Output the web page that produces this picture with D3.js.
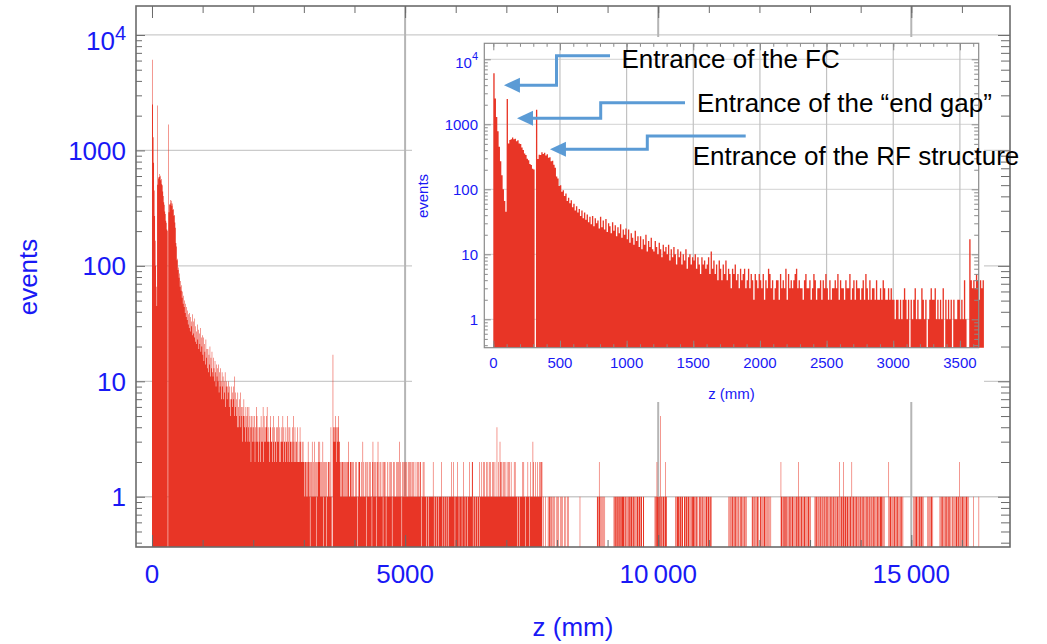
<!DOCTYPE html>
<html>
<head>
<meta charset="utf-8">
<script src="https://cdn.jsdelivr.net/npm/d3@7"></script>
<style>
  body { margin: 0; background: #fff; }
  svg { display: block; font-family: "Liberation Sans", Arial, Helvetica, sans-serif; }
</style>
</head>
<body>
<svg id="chart" width="1047" height="644"></svg>
<script>
// histogram of z positions, 10 mm bins
var binWidth = 10;

// 0 - 790 mm
var headCounts = [
  6100, 2500, 1300, 780, 450, 270, 165, 100, 66, 45,
  2450, 505, 572, 588, 625, 590, 602, 551, 566, 508,
  498, 441, 402, 355, 338, 296, 281, 246, 236, 207,
  201, 0, 1680, 292, 341, 338, 372, 349, 366, 331,
  346, 305, 311, 271, 276, 238, 214, 158, 147, 112,
  115, 92, 97, 79, 86, 66, 74, 61, 68, 53,
  60, 47, 55, 44, 50, 39, 47, 36, 44, 34,
  41, 31, 38, 29, 39, 27, 36, 30, 33, 25
];

// 800 - 1990 mm
var midCounts = [
  38, 26, 33, 24, 35, 22, 30, 27, 21, 31,
  23, 28, 19, 26, 21, 29, 18, 24, 20, 25,
  17, 24, 15, 21, 18, 14, 23, 16, 19, 13,
  19, 12, 17, 14, 20, 11, 16, 13, 18, 12,
  11, 16, 13, 10, 15, 12, 9, 14, 11, 13,
  10, 14, 8, 12, 9, 13, 10, 7, 12, 9,
  11, 7, 10, 8, 12, 6, 9, 10, 7, 9,
  8, 10, 6, 9, 7, 5, 9, 7, 8, 6,
  7, 9, 5, 11, 6, 8, 5, 7, 4, 8,
  6, 4, 7, 5, 8, 4, 6, 5, 3, 6,
  5, 7, 4, 5, 3, 6, 4, 5, 6, 3,
  4, 6, 3, 5, 4, 2, 5, 4, 3, 5
];

// from 2000 mm on: one row per metre, one digit per bin
var tailRows = [
  "4352436534 2344253436 2534345634 3324533423 5423342435 3242334352 4332433523 4243323425 3242332422 3243223232",
  "2122121232 1202123121 1321201232 2312121302 1212021122 1214100043 4354243453 3212122121 2121212231 1221212121",
  "1211201212 2112113121 1210212112 1211023121 2120123121 1211210212 2101121121 1212011221 1121212131 2110211212",
  "1212112121 2112121211 1211212112 2101121211 1101110111 1111121011 1011110111 1211011101 1101101111 1211121101",
  "1112110111 1101121101 1110111211 1122011101 1101110211 1211212111 2112112121 1121211211 1411211321 2112121211",
  "1211212112 1111121211 1101110111 1121211011 1121101211 1132111211 1211121212 2001000100 0010110101 1001010010",
  "0101001001 0100100100 1010000000 0000000000 0000010000 0000000000 0000000000 0000000001 1012101100 1010100000",
  "0000000000 0011011101 1101110111 1110110101 0111011110 1101101011 1011101100 1100000000 0000000000 0001101211",
  "1011501101 1101211000 0000000000 0000110111 1011101110 0111011011 1010110111 1101011010 0111010110 1010111011",
  "1011010000 0000000000 0000000000 0000000001 0110101101 1011010110 0110110101 1010100000 0000011010 1101011010",
  "0110101101 1010110100 1010000000 0000000000 0021101101 1101101011 0110111010 1011011201 1011010111 0110101101",
  "1000000001 1011011010 1101101011 0110110101 1011011010 1101101021 0110112011 1101101101 1021011011 0110110101",
  "1011011010 1101101101 0110110110 1011011011 1101101000 0000021011 0110101101 1011010110 1101000000 0000000000",
  "0000101011 1101011011 1011000000 0010110101 1010000000 0000001011 0110101101 1011011010 0110101011 1011020110",
  "1101101011 0110000000 0010000000 0001000000"
];
var tailPeaks = [[3570, 17]];

var yTicks = [1, 10, 100, 1000, 10000];
var yTickLabels = ["1", "10", "100", "1000", "10^4"];
var mainXTicks = [0, 5000, 10000, 15000];
var mainXLabels = ["0", "5000", "10\u2009000", "15\u2009000"];
var insetXTicks = [0, 500, 1000, 1500, 2000, 2500, 3000, 3500];
var insetMaxZ = 3680;

// arrows point at these (z, events) spots of the inset
var callouts = [
  {label: "Entrance of the FC", z: 80, n: 4000, elbowX: 556.5, topY: 55.7, endX: 610, tx: 621.5, ty: 67.5},
  {label: "Entrance of the \u201Cend gap\u201D", z: 178, n: 1240, elbowX: 600.7, topY: 102.7, endX: 685, tx: 697, ty: 111.7},
  {label: "Entrance of the RF structure", z: 425, n: 415, elbowX: 647.3, topY: 136, endX: 745.7, tx: 692.7, ty: 165}
];

var bins = [];
headCounts.concat(midCounts).forEach(function (c, i) { bins.push({z: i * binWidth, c: c}); });
tailRows.forEach(function (row, r) {
  row.replace(/ /g, "").split("").forEach(function (ch, i) {
    bins.push({z: 2000 + r * 1000 + i * binWidth, c: +ch});
  });
});
tailPeaks.forEach(function (p) {
  bins.forEach(function (b) { if (b.z === p[0]) b.c = p[1]; });
});

var red = "#e83526", blue = "#1919f5";
var svg = d3.select("#chart");
svg.append("rect").attr("width", 1047).attr("height", 644).attr("fill", "#fff");

var xMain = d3.scaleLinear().domain([-316, 16950]).range([136, 1010]);
var yMain = d3.scaleLog().domain([0.367, 17820]).range([547, 6]);
var xIn = d3.scaleLinear().domain([-67.5, 3641]).range([484.3, 978.7]);
var yIn = d3.scaleLog().domain([0.366, 17620]).range([347.7, 43.3]);

function minorLog(y) {
  var d = y.domain(), out = [];
  for (var e = -1; e <= 4; e++) {
    for (var k = 2; k <= 9; k++) {
      var v = k * Math.pow(10, e);
      if (v >= d[0] && v <= d[1]) out.push(v);
    }
  }
  return out;
}

function range(a, b, step) { return d3.range(a, b + 1, step); }

function tickSet(g, axis, pos, values, size, color) {
  g.append("g").attr("transform", pos)
    .call(axis.tickValues(values).tickSize(size).tickFormat(""))
    .call(function (a) {
      a.select(".domain").remove();
      a.selectAll("line").attr("stroke", color);
    });
}

function histogram(g, x, y, data) {
  var floor = y.domain()[0];
  var pts = data.map(function (b) { return {z: b.z, c: b.c > 0 ? b.c : floor}; });
  pts.push({z: data[data.length - 1].z + binWidth, c: floor});
  g.append("path").datum(pts)
    .attr("fill", red)
    .attr("d", d3.area().curve(d3.curveStepAfter)
      .x(function (d) { return x(d.z); })
      .y0(y.range()[0])
      .y1(function (d) { return y(d.c); }));
}

function yLabels(g, y, xRight, size, supSize, base, powBase, supDy) {
  yTicks.forEach(function (v, i) {
    var parts = yTickLabels[i].split("^");
    var t = g.append("text").attr("x", xRight).attr("text-anchor", "end")
      .attr("fill", blue).attr("font-size", size);
    if (parts.length > 1) {
      t.attr("y", y(v) + powBase);
      t.append("tspan").text(parts[0]);
      t.append("tspan").attr("font-size", supSize).attr("dy", supDy).text(parts[1]);
    } else {
      t.attr("y", y(v) + base).text(parts[0]);
    }
  });
}

// ---------- main plot ----------
var main = svg.append("g");
main.selectAll(".hgrid").data(yTicks).enter().append("line")
  .attr("x1", 136).attr("x2", 1010)
  .attr("y1", function (d) { return yMain(d); }).attr("y2", function (d) { return yMain(d); })
  .attr("stroke", "#cbcbcb").attr("stroke-width", 1.3);
main.selectAll(".vgrid").data(mainXTicks.slice(1)).enter().append("line")
  .attr("x1", function (d) { return xMain(d); }).attr("x2", function (d) { return xMain(d); })
  .attr("y1", 6).attr("y2", 547)
  .attr("stroke", "#b5b5b5").attr("stroke-width", 2);

histogram(main, xMain, yMain, bins);

var frameCol = "#6b6b6b";
tickSet(main, d3.axisLeft(yMain), "translate(136,0)", minorLog(yMain), -6, frameCol);
tickSet(main, d3.axisLeft(yMain), "translate(136,0)", yTicks, -9, frameCol);
tickSet(main, d3.axisRight(yMain), "translate(1010,0)", minorLog(yMain), -9, frameCol);
tickSet(main, d3.axisRight(yMain), "translate(1010,0)", yTicks, -12, frameCol);
tickSet(main, d3.axisBottom(xMain), "translate(0,547)", range(0, 16000, 1000), -7, frameCol);
tickSet(main, d3.axisBottom(xMain), "translate(0,547)", mainXTicks, -12, frameCol);
tickSet(main, d3.axisTop(xMain), "translate(0,6)", range(0, 16000, 1000), -7, frameCol);
tickSet(main, d3.axisTop(xMain), "translate(0,6)", mainXTicks, -12, frameCol);
main.append("rect").attr("x", 136).attr("y", 6).attr("width", 874).attr("height", 541)
  .attr("fill", "none").attr("stroke", frameCol).attr("stroke-width", 1.6);

yLabels(main, yMain, 126, 26, 20, 9.3, 15, -10);
main.selectAll(".xl").data(mainXTicks).enter().append("text")
  .attr("x", function (d) { return xMain(d); }).attr("y", 583)
  .attr("text-anchor", "middle").attr("fill", blue).attr("font-size", 26)
  .text(function (d, i) { return mainXLabels[i]; });
main.append("text").attr("x", 573).attr("y", 636).attr("text-anchor", "middle")
  .attr("fill", blue).attr("font-size", 26).text("z (mm)");
main.append("text").attr("transform", "translate(36.5,277) rotate(-90)")
  .attr("text-anchor", "middle").attr("fill", blue).attr("font-size", 26).text("events");

// ---------- inset ----------
var inset = svg.append("g");
inset.append("rect").attr("x", 412).attr("y", 37).attr("width", 572).attr("height", 365).attr("fill", "#fff");
inset.selectAll(".hgrid").data(yTicks).enter().append("line")
  .attr("x1", 484.3).attr("x2", 978.7)
  .attr("y1", function (d) { return yIn(d); }).attr("y2", function (d) { return yIn(d); })
  .attr("stroke", "#d2d2d2").attr("stroke-width", 1);
inset.selectAll(".vgrid").data(insetXTicks.slice(1)).enter().append("line")
  .attr("x1", function (d) { return xIn(d); }).attr("x2", function (d) { return xIn(d); })
  .attr("y1", 43.3).attr("y2", 347.7)
  .attr("stroke", "#c2c2c2").attr("stroke-width", 1.2);

histogram(inset, xIn, yIn, bins.filter(function (b) { return b.z < insetMaxZ; }));

var inCol = "#8a8a8a";
tickSet(inset, d3.axisLeft(yIn), "translate(484.3,0)", minorLog(yIn), -3.5, inCol);
tickSet(inset, d3.axisLeft(yIn), "translate(484.3,0)", yTicks, -6.5, inCol);
tickSet(inset, d3.axisRight(yIn), "translate(978.7,0)", minorLog(yIn), -4.5, inCol);
tickSet(inset, d3.axisRight(yIn), "translate(978.7,0)", yTicks, -7, inCol);
tickSet(inset, d3.axisBottom(xIn), "translate(0,347.7)", range(0, 3600, 100), -3.5, inCol);
tickSet(inset, d3.axisBottom(xIn), "translate(0,347.7)", insetXTicks, -7, inCol);
tickSet(inset, d3.axisTop(xIn), "translate(0,43.3)", range(0, 3600, 100), -3.5, inCol);
tickSet(inset, d3.axisTop(xIn), "translate(0,43.3)", insetXTicks, -7, inCol);
inset.append("rect").attr("x", 484.3).attr("y", 43.3).attr("width", 494.4).attr("height", 304.4)
  .attr("fill", "none").attr("stroke", inCol).attr("stroke-width", 1.2);

yLabels(inset, yIn, 478, 15, 11, 5.5, 9, -8);
inset.selectAll(".xl").data(insetXTicks).enter().append("text")
  .attr("x", function (d) { return xIn(d); }).attr("y", 368.3)
  .attr("text-anchor", "middle").attr("fill", blue).attr("font-size", 15)
  .text(function (d) { return d; });
inset.append("text").attr("x", 731.5).attr("y", 398.5).attr("text-anchor", "middle")
  .attr("fill", blue).attr("font-size", 15).text("z (mm)");
inset.append("text").attr("transform", "translate(428,196) rotate(-90)")
  .attr("text-anchor", "middle").attr("fill", blue).attr("font-size", 15).text("events");

// ---------- callouts ----------
var notes = svg.append("g");
callouts.forEach(function (c) {
  var tx = xIn(c.z), ty = yIn(c.n);
  notes.append("path")
    .attr("d", d3.line()([[c.endX, c.topY], [c.elbowX, c.topY], [c.elbowX, ty], [tx + 14, ty]]))
    .attr("fill", "none").attr("stroke", "#5b9bd5").attr("stroke-width", 3);
  notes.append("path")
    .attr("d", "M" + tx + "," + ty + "L" + (tx + 16) + "," + (ty - 7.5) + "L" + (tx + 16) + "," + (ty + 7.5) + "Z")
    .attr("fill", "#5b9bd5");
  notes.append("text").attr("x", c.tx).attr("y", c.ty)
    .attr("fill", "#000").attr("font-size", 26).text(c.label);
});
</script>
</body>
</html>
